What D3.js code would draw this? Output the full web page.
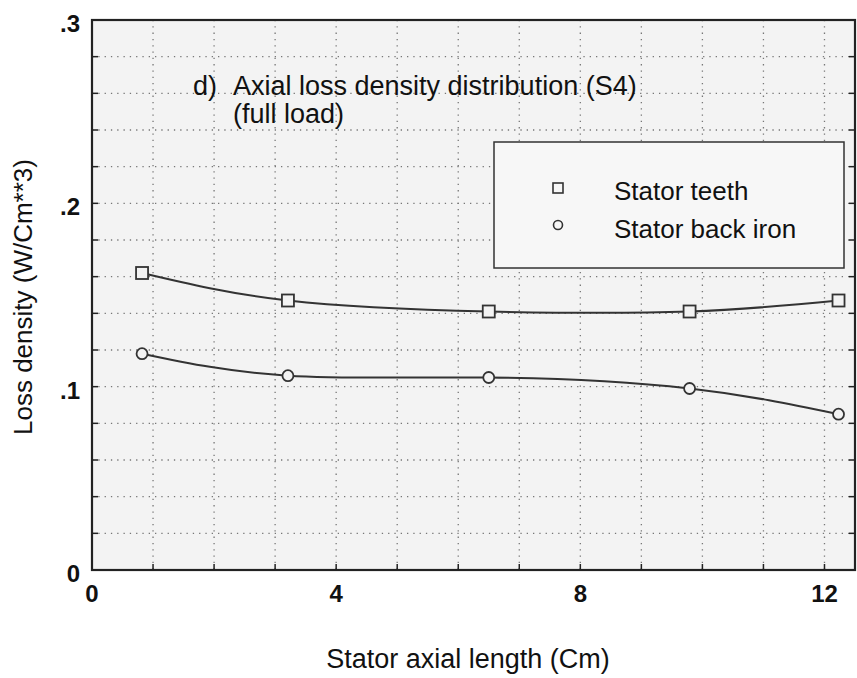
<!DOCTYPE html>
<html>
<head>
<meta charset="utf-8">
<title>Axial loss density distribution</title>
<script src="https://d3js.org/d3.v7.min.js"></script>
<style>
  body { margin: 0; background: #fff; }
  text { font-family: "Liberation Sans", Arial, sans-serif; fill: #111; }
</style>
</head>
<body>
<svg></svg>
<script>
// data
const positions = [0.82, 3.21, 6.5, 9.79, 12.23]
const teeth = [0.162, 0.147, 0.141, 0.141, 0.147]
const backIron = [0.118, 0.106, 0.105, 0.099, 0.085]
const seriesNames = ['Stator teeth', 'Stator back iron']
const xTickLabels = [0, 4, 8, 12]
const yTickLabels = [0, 0.1, 0.2, 0.3]

const W = 857, H = 678
const svg = d3.select('svg').attr('width', W).attr('height', H)

const pLeft = 92, pRight = 855, pTop = 20, pBottom = 570

const x = d3.scaleLinear().domain([0, 12.5]).range([pLeft, pRight])
const y = d3.scaleLinear().domain([0, 0.3]).range([pBottom, pTop])

// plot background
svg.append('rect')
  .attr('x', pLeft).attr('y', pTop)
  .attr('width', pRight - pLeft).attr('height', pBottom - pTop)
  .attr('fill', '#f3f3f3')

// dotted grid
const grid = svg.append('g')
  .attr('stroke', '#777')
  .attr('stroke-width', 1.3)
  .attr('stroke-dasharray', '1.3,5')
grid.selectAll('line.v')
  .data(d3.range(1, 13))
  .join('line')
    .attr('class', 'v')
    .attr('x1', d => x(d)).attr('x2', d => x(d))
    .attr('y1', pTop).attr('y2', pBottom)
grid.selectAll('line.h')
  .data(d3.range(1, 15).map(d => d * 0.02))
  .join('line')
    .attr('class', 'h')
    .attr('x1', pLeft).attr('x2', pRight)
    .attr('y1', d => y(d)).attr('y2', d => y(d))

// frame
svg.append('rect')
  .attr('x', pLeft).attr('y', pTop)
  .attr('width', pRight - pLeft).attr('height', pBottom - pTop)
  .attr('fill', 'none')
  .attr('stroke', '#222')
  .attr('stroke-width', 2.2)

// inward ticks
const tk = svg.append('g').attr('stroke', '#222').attr('stroke-width', 1.5)
tk.selectAll('line.xb')
  .data(d3.range(1, 13))
  .join('line')
    .attr('class', 'xb')
    .attr('x1', d => x(d)).attr('x2', d => x(d))
    .attr('y1', pBottom).attr('y2', pBottom - 6)
tk.selectAll('line.yl')
  .data(d3.range(1, 15).map(d => d * 0.02))
  .join('line')
    .attr('class', 'yl')
    .attr('x1', pLeft).attr('x2', pLeft + 6)
    .attr('y1', d => y(d)).attr('y2', d => y(d))
tk.selectAll('line.yr')
  .data(d3.range(1, 15).map(d => d * 0.02))
  .join('line')
    .attr('class', 'yr')
    .attr('x1', pRight).attr('x2', pRight - 6)
    .attr('y1', d => y(d)).attr('y2', d => y(d))

// tick labels
svg.append('g').selectAll('text')
  .data(xTickLabels)
  .join('text')
    .attr('x', d => x(d))
    .attr('y', pBottom + 32)
    .attr('text-anchor', 'middle')
    .attr('font-size', 24)
    .attr('font-weight', 'bold')
    .text(d => d)

svg.append('g').selectAll('text')
  .data(yTickLabels)
  .join('text')
    .attr('x', pLeft - 12)
    .attr('y', d => y(d) + 12)
    .attr('text-anchor', 'end')
    .attr('font-size', 24)
    .attr('font-weight', 'bold')
    .text(d => d === 0 ? '0' : d3.format('.1f')(d).replace(/^0/, ''))

// axis titles
svg.append('text')
  .attr('x', 468).attr('y', 668)
  .attr('text-anchor', 'middle')
  .attr('font-size', 27)
  .text('Stator axial length (Cm)')

svg.append('text')
  .attr('transform', 'translate(32,297) rotate(-90)')
  .attr('text-anchor', 'middle')
  .attr('font-size', 26)
  .text('Loss density (W/Cm**3)')

// inner title
const titleSize = 27
svg.append('text')
  .attr('x', 193).attr('y', 95)
  .attr('font-size', titleSize)
  .attr('fill', '#333')
  .text('d)')
svg.append('text')
  .attr('x', 233).attr('y', 95)
  .attr('font-size', titleSize)
  .attr('fill', '#333')
  .text('Axial loss density distribution (S4)')
svg.append('text')
  .attr('x', 233).attr('y', 123)
  .attr('font-size', titleSize)
  .attr('fill', '#333')
  .text('(full load)')

// curves
const line = d3.line()
  .x(d => x(d[0]))
  .y(d => y(d[1]))
  .curve(d3.curveNatural)

const series = [teeth, backIron].map(v => positions.map((p, i) => [p, v[i]]))

svg.append('g').selectAll('path')
  .data(series)
  .join('path')
    .attr('d', line)
    .attr('fill', 'none')
    .attr('stroke', '#333')
    .attr('stroke-width', 2)

// markers
svg.append('g').selectAll('rect')
  .data(series[0])
  .join('rect')
    .attr('x', d => x(d[0]) - 6)
    .attr('y', d => y(d[1]) - 6)
    .attr('width', 12).attr('height', 12)
    .attr('fill', '#f3f3f3')
    .attr('stroke', '#333')
    .attr('stroke-width', 1.8)

svg.append('g').selectAll('circle')
  .data(series[1])
  .join('circle')
    .attr('cx', d => x(d[0]))
    .attr('cy', d => y(d[1]))
    .attr('r', 5.5)
    .attr('fill', '#f3f3f3')
    .attr('stroke', '#333')
    .attr('stroke-width', 1.8)

// legend
const lg = svg.append('g')
lg.append('rect')
  .attr('x', 494).attr('y', 142)
  .attr('width', 350).attr('height', 126)
  .attr('fill', '#f7f7f7')
  .attr('stroke', '#333')
  .attr('stroke-width', 1.5)
lg.append('rect')
  .attr('x', 553).attr('y', 183)
  .attr('width', 10).attr('height', 10)
  .attr('fill', 'none')
  .attr('stroke', '#333')
  .attr('stroke-width', 1.6)
lg.append('circle')
  .attr('cx', 558).attr('cy', 225)
  .attr('r', 4.5)
  .attr('fill', 'none')
  .attr('stroke', '#333')
  .attr('stroke-width', 1.6)
lg.selectAll('text')
  .data(seriesNames)
  .join('text')
    .attr('x', 614)
    .attr('y', (d, i) => 200 + i * 38)
    .attr('font-size', 26)
    .attr('fill', '#333')
    .text(d => d)
</script>
</body>
</html>
